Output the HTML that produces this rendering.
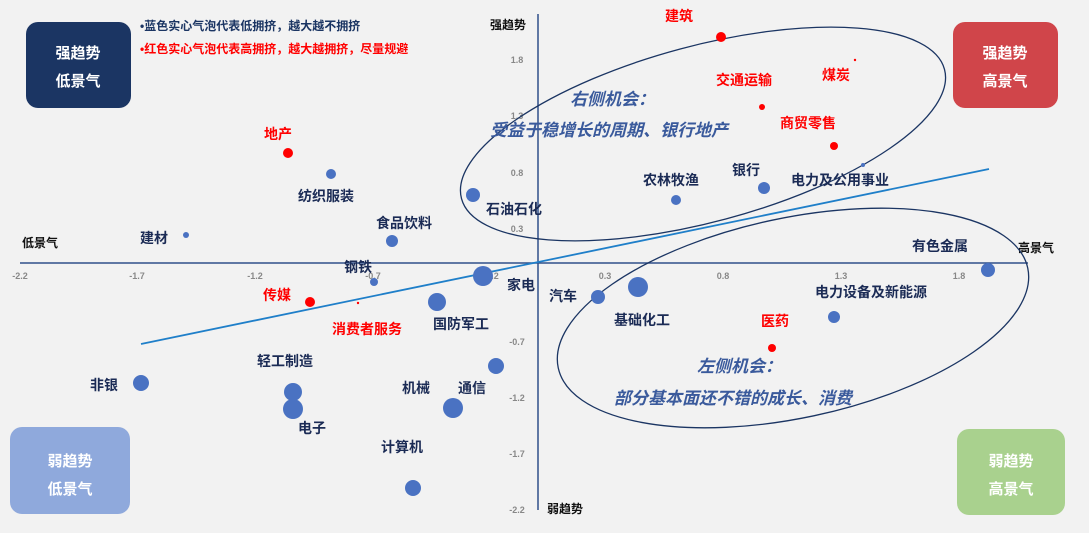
<!DOCTYPE html>
<html><head><meta charset="utf-8"><style>
body{margin:0;background:#f2f2f2;}
svg text{font-family:"Liberation Sans","Noto Sans CJK SC",sans-serif;font-weight:bold;}
</style></head><body>
<svg width="1089" height="528" viewBox="0 0 1089 528" xmlns="http://www.w3.org/2000/svg">
<rect width="1089" height="528" fill="#f2f2f2"/>
<rect x="26" y="22" width="105" height="86" rx="12" fill="#1b3563"/>
<text x="78" y="58" fill="#fff" font-size="15" text-anchor="middle">强趋势</text>
<text x="78" y="86" fill="#fff" font-size="15" text-anchor="middle">低景气</text>
<rect x="953" y="22" width="105" height="86" rx="12" fill="#d0454a"/>
<text x="1005" y="58" fill="#fff" font-size="15" text-anchor="middle">强趋势</text>
<text x="1005" y="86" fill="#fff" font-size="15" text-anchor="middle">高景气</text>
<rect x="10" y="427" width="120" height="87" rx="12" fill="#8fa9dc"/>
<text x="70" y="466" fill="#fff" font-size="15" text-anchor="middle">弱趋势</text>
<text x="70" y="494" fill="#fff" font-size="15" text-anchor="middle">低景气</text>
<rect x="957" y="429" width="108" height="86" rx="12" fill="#a9d18e"/>
<text x="1011" y="466" fill="#fff" font-size="15" text-anchor="middle">弱趋势</text>
<text x="1011" y="494" fill="#fff" font-size="15" text-anchor="middle">高景气</text>
<text x="140" y="30" fill="#1b3563" font-size="12">•蓝色实心气泡代表低拥挤，越大越不拥挤</text>
<text x="140" y="53" fill="#ff0000" font-size="12">•红色实心气泡代表高拥挤，越大越拥挤，尽量规避</text>
<line x1="20" y1="263" x2="1028" y2="263" stroke="#2f4f8a" stroke-width="1.5"/>
<line x1="538" y1="14" x2="538" y2="510" stroke="#2f4f8a" stroke-width="1.5"/>
<g font-size="9" fill="#888">
<text x="20" y="279" text-anchor="middle" font-weight="normal">-2.2</text>
<text x="137" y="279" text-anchor="middle" font-weight="normal">-1.7</text>
<text x="255" y="279" text-anchor="middle" font-weight="normal">-1.2</text>
<text x="373" y="279" text-anchor="middle" font-weight="normal">-0.7</text>
<text x="491" y="279" text-anchor="middle" font-weight="normal">-0.2</text>
<text x="605" y="279" text-anchor="middle" font-weight="normal">0.3</text>
<text x="723" y="279" text-anchor="middle" font-weight="normal">0.8</text>
<text x="841" y="279" text-anchor="middle" font-weight="normal">1.3</text>
<text x="959" y="279" text-anchor="middle" font-weight="normal">1.8</text>
<text x="517" y="63" text-anchor="middle" font-weight="normal">1.8</text>
<text x="517" y="119" text-anchor="middle" font-weight="normal">1.3</text>
<text x="517" y="176" text-anchor="middle" font-weight="normal">0.8</text>
<text x="517" y="232" text-anchor="middle" font-weight="normal">0.3</text>
<text x="517" y="345" text-anchor="middle" font-weight="normal">-0.7</text>
<text x="517" y="401" text-anchor="middle" font-weight="normal">-1.2</text>
<text x="517" y="457" text-anchor="middle" font-weight="normal">-1.7</text>
<text x="517" y="513" text-anchor="middle" font-weight="normal">-2.2</text>
</g>
<text x="22" y="247" font-size="12" fill="#111">低景气</text>
<text x="1018" y="252" font-size="12" fill="#111">高景气</text>
<text x="490" y="29" font-size="12" fill="#111">强趋势</text>
<text x="547" y="513" font-size="12" fill="#111">弱趋势</text>
<line x1="141" y1="344" x2="989" y2="169" stroke="#1f7fc9" stroke-width="1.8"/>
<ellipse cx="703" cy="134" rx="250" ry="88" transform="rotate(-15 703 134)" fill="none" stroke="#1b3563" stroke-width="1.3"/>
<ellipse cx="793" cy="318" rx="240" ry="100" transform="rotate(-12 793 318)" fill="none" stroke="#1b3563" stroke-width="1.3"/>
<text x="570" y="105" font-size="17" fill="#3a5a9c" font-style="italic">右侧机会：</text>
<text x="490" y="136" font-size="17" fill="#3a5a9c" font-style="italic">受益于稳增长的周期、银行地产</text>
<text x="697" y="372" font-size="17" fill="#3a5a9c" font-style="italic">左侧机会：</text>
<text x="614" y="404" font-size="17" fill="#3a5a9c" font-style="italic">部分基本面还不错的成长、消费</text>
<g fill="#4a72c2">
<circle cx="331" cy="174" r="5"/><circle cx="186" cy="235" r="3"/><circle cx="392" cy="241" r="6"/>
<circle cx="473" cy="195" r="7"/><circle cx="374" cy="282" r="4"/><circle cx="483" cy="276" r="10"/>
<circle cx="676" cy="200" r="5"/><circle cx="764" cy="188" r="6"/><circle cx="863" cy="165" r="2"/>
<circle cx="988" cy="270" r="7"/><circle cx="598" cy="297" r="7"/><circle cx="638" cy="287" r="10"/>
<circle cx="834" cy="317" r="6"/><circle cx="437" cy="302" r="9"/><circle cx="496" cy="366" r="8"/>
<circle cx="141" cy="383" r="8"/><circle cx="293" cy="392" r="9"/><circle cx="293" cy="409" r="10"/>
<circle cx="453" cy="408" r="10"/><circle cx="413" cy="488" r="8"/>
</g>
<g fill="#ff0000">
<circle cx="721" cy="37" r="5"/><circle cx="762" cy="107" r="3"/><circle cx="855" cy="60" r="1.2"/>
<circle cx="834" cy="146" r="4"/><circle cx="288" cy="153" r="5"/><circle cx="310" cy="302" r="5"/>
<circle cx="358" cy="303" r="1.2"/><circle cx="772" cy="348" r="4"/>
</g>
<g font-size="14" fill="#ff0000">
<text x="665" y="21">建筑</text><text x="716" y="85">交通运输</text><text x="822" y="80">煤炭</text>
<text x="780" y="128">商贸零售</text><text x="264" y="139">地产</text><text x="263" y="300">传媒</text>
<text x="332" y="334">消费者服务</text><text x="761" y="326">医药</text>
</g>
<g font-size="14" fill="#1b2b55">
<text x="298" y="201">纺织服装</text><text x="140" y="243">建材</text><text x="376" y="228">食品饮料</text>
<text x="486" y="214">石油石化</text><text x="344" y="272">钢铁</text><text x="507" y="290">家电</text>
<text x="643" y="185">农林牧渔</text><text x="732" y="175">银行</text><text x="791" y="185">电力及公用事业</text>
<text x="912" y="251">有色金属</text><text x="549" y="301">汽车</text><text x="614" y="325">基础化工</text>
<text x="815" y="297">电力设备及新能源</text><text x="433" y="329">国防军工</text><text x="458" y="393">通信</text>
<text x="90" y="390">非银</text><text x="257" y="366">轻工制造</text><text x="298" y="433">电子</text>
<text x="402" y="393">机械</text><text x="381" y="452">计算机</text>
</g>
</svg>
</body></html>
